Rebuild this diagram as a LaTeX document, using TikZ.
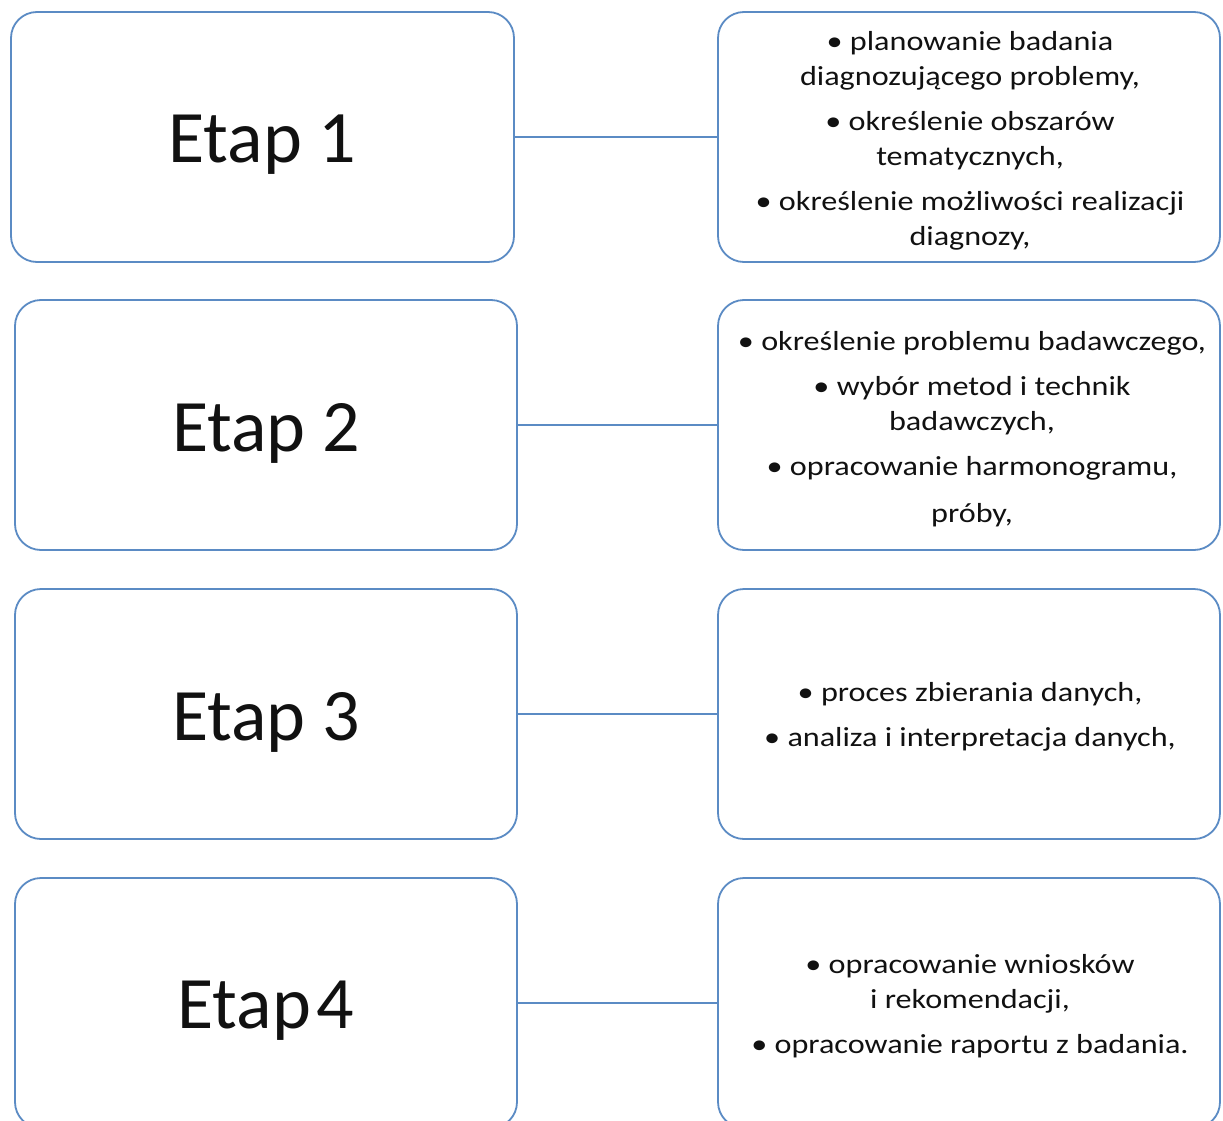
\documentclass[tikz,border=0pt]{standalone}
\usepackage{fontspec}
\setmainfont{Carlito}
\newfontfamily\itemfont[FakeStretch=1.17]{Carlito}
\definecolor{boxblue}{HTML}{5B8BC4}
\definecolor{txt}{HTML}{111111}
\tikzset{
  x=1pt, y=-1pt,
  stagebox/.style={draw=boxblue, line width=1.8pt, rounded corners=26pt, fill=white,
    minimum width=502pt, minimum height=250pt, inner sep=0pt, text=txt},
  titletext/.style={inner sep=0pt, text=txt, font=\fontsize{74}{88}\selectfont},
  itemtext/.style={inner sep=0pt, text=txt, align=center, font=\itemfont\fontsize{27.5}{35}\selectfont},
  link/.style={draw=boxblue, line width=1.8pt}
}
\begin{document}
\begin{tikzpicture}
\useasboundingbox (0,0) rectangle (1223,1121);
\clip (0,0) rectangle (1223,1121);
\node[stagebox, minimum width=503pt] (L1) at (262.5,137) {};
\node[stagebox] (L2) at (266,425) {};
\node[stagebox] (L3) at (266,714) {};
\node[stagebox] (L4) at (266,1003) {};
\node[stagebox] (R1) at (969,137) {};
\node[stagebox] (R2) at (969,425) {};
\node[stagebox] (R3) at (969,714) {};
\node[stagebox] (R4) at (969,1003) {};
\node[titletext] (T1) at ([yshift=-8pt]L1.center) {Etap 1};
\node[titletext] (T2) at ([yshift=-8pt]L2.center) {Etap 2};
\node[titletext] (T3) at ([yshift=-8pt]L3.center) {Etap 3};
\node[titletext] (T4) at ([yshift=-8pt]L4.center) {Etap\kern6pt 4};
\node[itemtext] (I1) at ([xshift=1pt,yshift=-4pt]R1.center) {• planowanie badania\\diagnozującego problemy,\\[10pt]• określenie obszarów\\tematycznych,\\[10pt]• określenie możliwości realizacji\\diagnozy,};
\node[itemtext] (I2) at ([xshift=3pt,yshift=-4pt]R2.center) {• określenie problemu badawczego,\\[10pt]• wybór metod i technik\\badawczych,\\[10pt]• opracowanie harmonogramu,\\[12pt]próby,};
\node[itemtext] (I3) at ([xshift=1pt,yshift=-3pt]R3.center) {• proces zbierania danych,\\[10pt]• analiza i interpretacja danych,};
\node[itemtext] (I4) at ([xshift=1pt,yshift=-3pt]R4.center) {• opracowanie wniosków\\i rekomendacji,\\[10pt]• opracowanie raportu z badania.};
\draw[link] (L1.east) -- (R1.west);
\draw[link] (L2.east) -- (R2.west);
\draw[link] (L3.east) -- (R3.west);
\draw[link] (L4.east) -- (R4.west);
\end{tikzpicture}
\end{document}
